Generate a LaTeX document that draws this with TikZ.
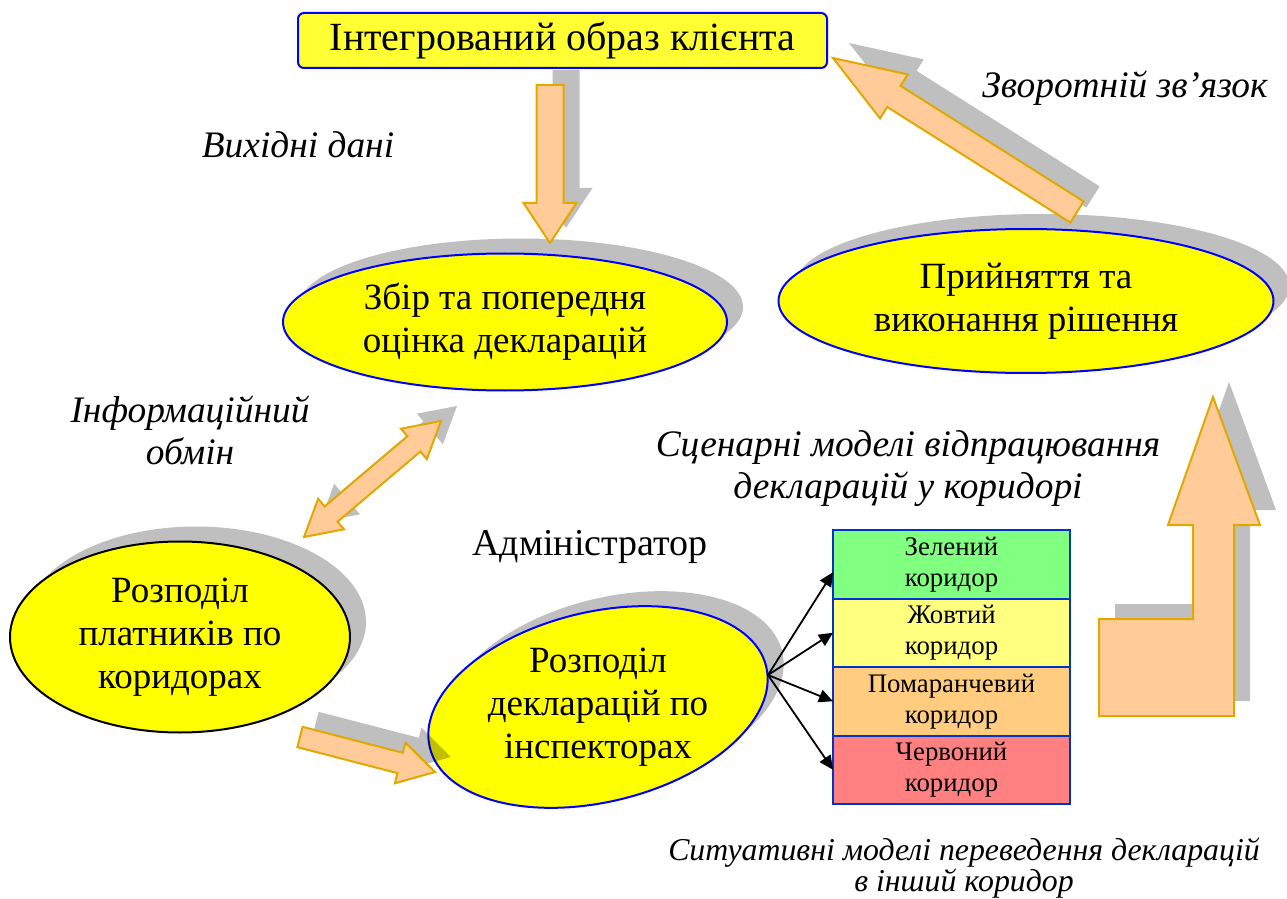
\documentclass[tikz,border=0pt]{standalone}
\usepackage{fontspec}
\setmainfont{Liberation Serif}
\usetikzlibrary{arrows.meta,calc,positioning,shapes.geometric}
\definecolor{stageyellow}{RGB}{255,255,0}
\definecolor{titleyellow}{RGB}{255,255,51}
\definecolor{stageblue}{RGB}{0,0,255}
\definecolor{arrowpeach}{RGB}{255,204,153}
\definecolor{arrowgold}{RGB}{224,168,0}
\definecolor{lanegreen}{RGB}{128,255,128}
\definecolor{laneyellow}{RGB}{255,255,128}
\definecolor{laneorange}{RGB}{255,204,128}
\definecolor{lanered}{RGB}{255,128,128}
\definecolor{laneblue}{RGB}{0,51,204}
\newcommand{\stagefont}{\fontsize{18.5}{21.5}\selectfont}
\newcommand{\notefont}{\itshape\fontsize{18.7}{21}\selectfont}
\newcommand{\lanefont}{\fontsize{13.4}{15.5}\selectfont}
\tikzset{
  shadowed/.style={preaction={fill=black,fill opacity=0.25,draw=none,
    transform canvas={shift={(8pt,7.5pt)}}}},
  stage/.style={ellipse,draw=stageblue,line width=1pt,fill=stageyellow,
    inner sep=0pt,align=center,font=\stagefont,shadowed},
  stagetext/.style={align=center,font=\stagefont},
  titlebox/.style={draw=stageblue,line width=1pt,fill=titleyellow,
    rounded corners=3pt,minimum width=264.5pt,minimum height=27.5pt,
    inner sep=0pt,font=\fontsize{20}{22}\selectfont},
  note/.style={align=center,font=\notefont},
  lane/.style={draw=laneblue,line width=1pt,minimum width=118.5pt,
    minimum height=34.25pt,inner sep=0pt,outer sep=0pt,align=center,
    font=\lanefont},
  blockfill/.style={draw=arrowgold,fill=arrowpeach,line width=1pt,shadowed},
  fan/.style={-{Triangle[length=7pt,width=6.5pt]},line width=0.9pt}
}
% #1 tail, #2 tip, #3 half shaft, #4 half head, #5 head length
\newcommand{\blockarrow}[5]{%
  \coordinate (ba-neck) at ($(#2)!#5!(#1)$);
  \draw[blockfill] ($(#1)!#3!90:(#2)$) -- ($(ba-neck)!#3!90:(#2)$)
    -- ($(ba-neck)!#4!90:(#2)$) -- (#2) -- ($(ba-neck)!#4!-90:(#2)$)
    -- ($(ba-neck)!#3!-90:(#2)$) -- ($(#1)!#3!-90:(#2)$) -- cycle;
}
\newcommand{\twowayarrow}[5]{%
  \coordinate (ba-neck) at ($(#2)!#5!(#1)$);
  \coordinate (ba-back) at ($(#1)!#5!(#2)$);
  \draw[blockfill] (#2) -- ($(ba-neck)!#4!-90:(#2)$)
    -- ($(ba-neck)!#3!-90:(#2)$) -- ($(ba-back)!#3!-90:(#2)$)
    -- ($(ba-back)!#4!-90:(#2)$) -- (#1) -- ($(ba-back)!#4!90:(#2)$)
    -- ($(ba-back)!#3!90:(#2)$) -- ($(ba-neck)!#3!90:(#2)$)
    -- ($(ba-neck)!#4!90:(#2)$) -- cycle;
}

\begin{document}
\begin{tikzpicture}[x=0.5pt,y=-0.5pt]
  \useasboundingbox (0,0) rectangle (1287,899);
  % stages
  \node[titlebox] (client) at (562.5,40.5) {Інтегрований образ клієнта};
  \node[stage,minimum width=222pt,minimum height=68.5pt] (collect)
    at (505,322) {Збір та попередня\\оцінка декларацій};
  \node[stage,minimum width=247.5pt,minimum height=72pt] (decision)
    at (1026,301) {Прийняття та\\виконання рішення};
  \node[stage,draw=black,minimum width=170pt,minimum height=95.5pt] (payers)
    at (180,637) {Розподіл\\платників по\\коридорах};
  \node[stage,rotate=13.5,minimum width=173pt,minimum height=95pt]
    (inspectors) at (598,707) {};
  \node[stagetext] (inspectors-text) at (inspectors.center)
    {Розподіл\\декларацій по\\інспекторах};
  % corridors
  \node[lane,fill=lanegreen] (green) at (951.5,564.25) {Зелений\\коридор};
  \node[lane,fill=laneyellow,below=0pt of green] (yellow) {Жовтий\\коридор};
  \node[lane,fill=laneorange,below=0pt of yellow] (orange)
    {Помаранчевий\\коридор};
  \node[lane,fill=lanered,below=0pt of orange] (red) {Червоний\\коридор};
  % labels
  \node[note,anchor=base] (source-note) at (298,158) {Вихідні дані};
  \node[note] (exchange-note) at (190,430) {Інформаційний\\обмін};
  \node[note,anchor=base] (feedback-note) at (1125,98) {Зворотній зв’язок};
  \node[note] (scenario-note) at (908,469)
    {Сценарні моделі відпрацювання\\декларацій у коридорі};
  \node[stagetext,font=\fontsize{19}{21.5}\selectfont,anchor=base]
    (admin-note) at (590,555) {Адміністратор};
  \node[note,font=\itshape\fontsize{15.9}{15.8}\selectfont]
    (transfer-note) at (964,868)
    {Ситуативні моделі переведення декларацій\\в інший коридор};
  % block arrows
  \coordinate (data-tail) at (550,85);
  \coordinate (data-tip) at (550,243);
  \blockarrow{data-tail}{data-tip}{6.75pt}{13.25pt}{20pt}
  \coordinate (feedback-tail) at (1077,212);
  \coordinate (feedback-tip) at (833,58);
  \blockarrow{feedback-tail}{feedback-tip}{6.25pt}{13pt}{36pt}
  \coordinate (exchange-low) at (304,537);
  \coordinate (exchange-up) at (441,421);
  \twowayarrow{exchange-low}{exchange-up}{5pt}{10pt}{17.75pt}
  \coordinate (route-tail) at (300,737);
  \coordinate (route-tip) at (435,772);
  \blockarrow{route-tail}{route-tip}{5.25pt}{10.5pt}{18pt}
  \draw[blockfill] (1213,397) -- (1260,525) -- (1234,525) -- (1234,716)
    -- (1099,716) -- (1099,619) -- (1193,619) -- (1193,525) -- (1168,525)
    -- cycle;
  % fan to corridors
  \coordinate (fan) at (768,675);
  \draw[fan] (fan) -- ([yshift=-4pt]green.west);
  \foreach \lane in {yellow,orange,red}
    \draw[fan] (fan) -- (\lane.west);
\end{tikzpicture}
\end{document}
